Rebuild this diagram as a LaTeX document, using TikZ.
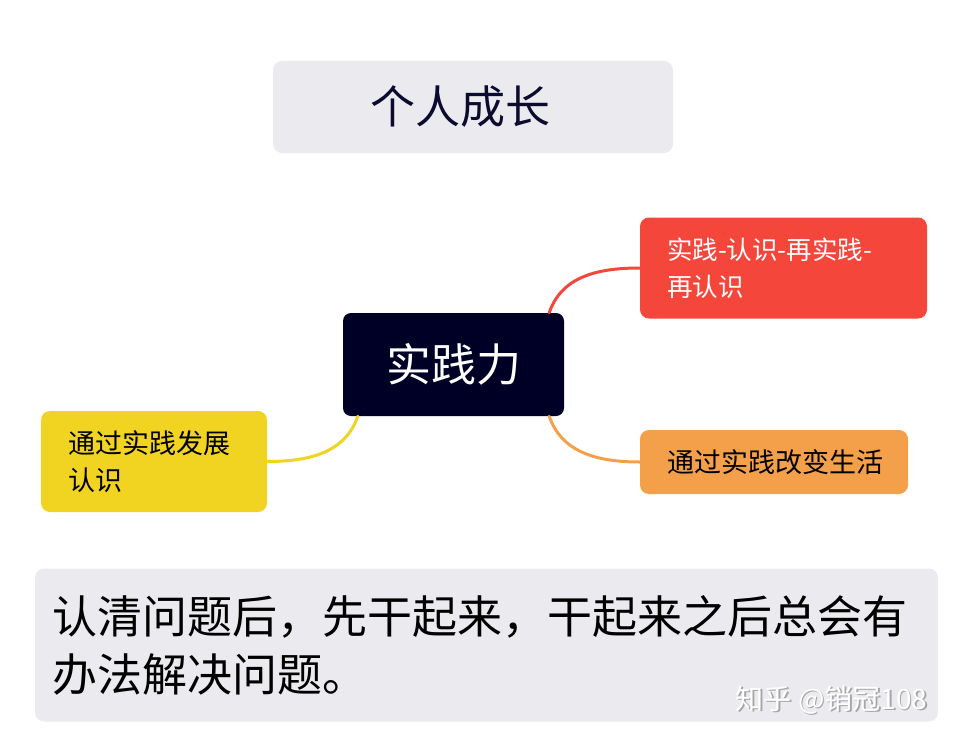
\documentclass[tikz,border=0pt]{standalone}
\usepackage{fontspec}
\usepackage{xcolor}
\usepackage{tikz}
\newfontfamily\cjk{Noto Sans CJK SC}
\definecolor{boxgrey}{HTML}{EBEAEE}
\definecolor{inkblue}{HTML}{0C0A2E}
\definecolor{corenavy}{HTML}{000026}
\definecolor{brred}{HTML}{F5463C}
\definecolor{brorange}{HTML}{F4A04A}
\definecolor{bryellow}{HTML}{F1D322}

\begin{document}
\begin{tikzpicture}[x=1pt, y=-1pt,
  panel/.style={rectangle, rounded corners=9pt, fill=boxgrey, inner sep=0pt,
                text=inkblue},
  core/.style={rectangle, rounded corners=8pt, fill=corenavy, inner sep=0pt,
               text=white, font=\cjk\fontsize{45}{50}\selectfont},
  branch/.style={rectangle, rounded corners=9pt, inner sep=0pt, align=left,
                 font=\cjk\fontsize{27}{37}\selectfont},
  link/.style={line width=3pt, line cap=round}]
  \useasboundingbox (0,0) rectangle (955,741);
  \node[panel, minimum width=400pt, minimum height=92pt] (title) at (473,107) {};
  \node[text=inkblue, inner sep=0pt, font=\cjk\fontsize{45}{50}\selectfont]
        (titletext) at ([xshift=-13pt]title.center) {个人成长};
  \node[core, minimum width=221pt, minimum height=103pt] (c) at (453.5,364.5) {实践力};
  \node[branch, fill=brred, text=white, minimum width=287pt, minimum height=101pt,
        text width=233pt, font=\cjk\fontsize{25.5}{37}\selectfont] (b1) at (783.5,268)
        {实践-认识-再实践-\\再认识};
  \node[branch, fill=brorange, text=black, minimum width=268pt, minimum height=64pt,
        text width=214pt] (b2) at (774,462) {通过实践改变生活};
  \node[branch, fill=bryellow, text=black, minimum width=226pt, minimum height=101pt,
        text width=172pt] (b3) at (154,461.5) {通过实践发展\\认识};
  \node[panel, minimum width=903pt, minimum height=153pt, text width=869pt,
        align=left, text=black, font=\cjk\fontsize{45}{58}\selectfont] (note) at (486.5,645)
        {认清问题后，先干起来，干起来之后总会有\\办法解决问题。};
  \node[text=black!35, font=\cjk\fontsize{28}{30}\selectfont] (wms) at (833,701.5) {知乎 @销冠108};
  \node[text=white, font=\cjk\fontsize{28}{30}\selectfont] (wm) at (831.5,700) {知乎 @销冠108};
  \draw[link, brred] ([xshift=-15pt]c.north east) .. controls +(12,-35) and +(-45,0) .. (b1.west);
  \draw[link, brorange] ([xshift=-15pt]c.south east) .. controls +(12,35) and +(-45,0) .. (b2.west);
  \draw[link, bryellow] ([xshift=15pt]c.south west) .. controls +(-12,35) and +(45,0) .. (b3.east);
\end{tikzpicture}
\end{document}
